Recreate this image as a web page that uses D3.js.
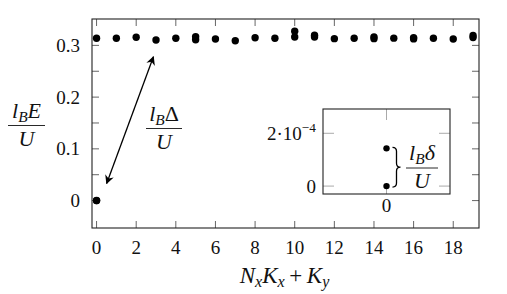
<!DOCTYPE html>
<html>
<head>
<meta charset="utf-8">
<script src="https://cdn.jsdelivr.net/npm/d3@7"></script>
<style>
  body { margin: 0; background: #fff; }
  svg text { font-family: "Liberation Serif", "DejaVu Serif", "Times New Roman", Times, serif; fill: #111; }
</style>
</head>
<body>
<svg id="chart" width="507" height="294"></svg>
<script>
// momentum sectors and lowest excited energies (l_B E / U)
const sectors = [0, 1, 2, 3, 4, 5, 6, 7, 8, 9, 10, 11, 12, 13, 14, 15, 16, 17, 18, 19]
const excitedE = [0.3137, 0.3137, 0.3157, 0.3104, 0.3137, 0.3108, 0.3124, 0.3091, 0.3149, 0.3137,
  0.3162, 0.3162, 0.3130, 0.3137, 0.3130, 0.3140, 0.3125, 0.3137, 0.3124, 0.3150]
// sectors where a second level sits just above the first
const pairSectors = [5, 10, 11, 14, 16, 19]
const pairE = [0.3166, 0.3273, 0.3195, 0.3165, 0.3150, 0.3190]
// quasi-degenerate ground states
const groundSectors = [0, 0]
const groundE = [0, 1.43e-4]

const xTicks = [0, 2, 4, 6, 8, 10, 12, 14, 16, 18]
const yTicks = [0, 0.1, 0.2, 0.3]
const yMinorTicks = [0.05, 0.15, 0.25]
const insetYTicks = [0, 2e-4]

const svg = d3.select('#chart')
const fs = 19
const ms = 22
const serif = "'Liberation Serif', 'DejaVu Serif', 'Times New Roman', serif"

const x = d3.scaleLinear().domain([-0.23, 19.3]).range([92, 479])
const y = d3.scaleLinear().domain([-0.053, 0.351]).range([228, 19])

// frame ticks (inward, on all four sides)
const tickLen = 7
const ticks = svg.append('g').attr('stroke', '#555').attr('stroke-width', 0.9)
xTicks.forEach(t => {
  ticks.append('line').attr('x1', x(t)).attr('x2', x(t)).attr('y1', 228).attr('y2', 228 - tickLen)
  ticks.append('line').attr('x1', x(t)).attr('x2', x(t)).attr('y1', 19).attr('y2', 19 + tickLen)
})
yTicks.concat(yMinorTicks).forEach(t => {
  ticks.append('line').attr('x1', 92).attr('x2', 92 + tickLen).attr('y1', y(t)).attr('y2', y(t))
  ticks.append('line').attr('x1', 479).attr('x2', 479 - tickLen).attr('y1', y(t)).attr('y2', y(t))
})

svg.append('rect')
  .attr('x', 92).attr('y', 19).attr('width', 479 - 92).attr('height', 228 - 19)
  .attr('fill', 'none').attr('stroke', '#222').attr('stroke-width', 1.1)

// tick labels
svg.append('g').selectAll('text').data(xTicks).join('text')
  .attr('x', d => x(d)).attr('y', 254)
  .attr('text-anchor', 'middle').attr('font-size', fs).attr('font-family', serif)
  .text(d => d)

svg.append('g').selectAll('text').data(yTicks).join('text')
  .attr('x', 80).attr('y', d => y(d) + 6.5)
  .attr('text-anchor', 'end').attr('font-size', fs).attr('font-family', serif)
  .text(d => d === 0 ? '0' : d.toFixed(1))

// data points
const pts = svg.append('g').attr('fill', '#000')
pts.selectAll('.ex').data(sectors).join('circle')
  .attr('class', 'ex')
  .attr('cx', (d) => x(d)).attr('cy', (d, i) => y(excitedE[i])).attr('r', 3.7)
pts.selectAll('.pair').data(pairSectors).join('circle')
  .attr('class', 'pair')
  .attr('cx', d => x(d)).attr('cy', (d, i) => y(pairE[i])).attr('r', 3.7)
pts.selectAll('.gs').data(groundSectors).join('circle')
  .attr('class', 'gs')
  .attr('cx', d => x(d)).attr('cy', (d, i) => y(groundE[i])).attr('r', 3.7)

// math-ish text helper: parts = [[text, italic, sub]]
function mathText(g, cx, by, parts, size) {
  const t = g.append('text').attr('x', cx).attr('y', by)
    .attr('text-anchor', 'middle').attr('font-size', size).attr('font-family', serif)
  let down = false
  parts.forEach(p => {
    const s = t.append('tspan').text(p[0])
    if (p[1]) s.attr('font-style', 'italic')
    if (p[2] && !down) { s.attr('dy', 4).attr('font-size', size * 0.7); down = true }
    else if (p[2]) { s.attr('font-size', size * 0.7) }
    else if (down) { s.attr('dy', -4); down = false }
  })
  return t
}

function fraction(g, cx, lineY, x0, x1, num, den, size) {
  mathText(g, cx, lineY - 8, num, size)
  g.append('line').attr('x1', x0).attr('x2', x1).attr('y1', lineY).attr('y2', lineY)
    .attr('stroke', '#111').attr('stroke-width', 0.9)
  mathText(g, cx, lineY + 20, den, size)
}

const labels = svg.append('g')
// y label
fraction(labels, 26.5, 125.5, 8, 45,
  [['l', true], ['B', true, true], ['E', true]], [['U', true]], ms)
// x label
mathText(labels, 284.5, 283,
  [['N', true], ['x', true, true], ['K', true], ['x', true, true], ['\u2009+\u2009', false], ['K', true], ['y', true, true]], ms + 1)

// gap arrow
const defs = svg.append('defs')
defs.append('marker').attr('id', 'ah').attr('viewBox', '0 0 10 10')
  .attr('refX', 9).attr('refY', 5).attr('markerWidth', 9).attr('markerHeight', 9)
  .attr('markerUnits', 'userSpaceOnUse').attr('orient', 'auto-start-reverse')
  .append('path').attr('d', 'M0,0 L10,5 L0,10 L3,5 Z').attr('fill', '#000')
svg.append('line')
  .attr('x1', x(0.51)).attr('y1', y(0.033)).attr('x2', x(2.87)).attr('y2', y(0.278))
  .attr('stroke', '#000').attr('stroke-width', 1.3)
  .attr('marker-start', 'url(#ah)').attr('marker-end', 'url(#ah)')
fraction(labels, 164, 128.5, 146, 182,
  [['l', true], ['B', true, true], ['\u0394', false]], [['U', true]], ms)

// inset
const ix = d3.scaleLinear().domain([-1, 1]).range([323, 450])
const iy = d3.scaleLinear().domain([-0.3e-4, 2.92e-4]).range([194, 109])
const inset = svg.append('g')
inset.append('rect').attr('x', 323).attr('y', 109).attr('width', 450 - 323).attr('height', 194 - 109)
  .attr('fill', '#fff')
const iticks = inset.append('g').attr('stroke', '#aaa').attr('stroke-width', 1)
const iLen = 11
iticks.append('line').attr('x1', ix(0)).attr('x2', ix(0)).attr('y1', 109).attr('y2', 109 + iLen)
iticks.append('line').attr('x1', ix(0)).attr('x2', ix(0)).attr('y1', 194).attr('y2', 194 - iLen)
insetYTicks.forEach(t => {
  iticks.append('line').attr('x1', 323).attr('x2', 323 + iLen).attr('y1', iy(t)).attr('y2', iy(t))
  iticks.append('line').attr('x1', 450).attr('x2', 450 - iLen).attr('y1', iy(t)).attr('y2', iy(t))
})
inset.append('rect').attr('x', 323).attr('y', 109).attr('width', 450 - 323).attr('height', 194 - 109)
  .attr('fill', 'none').attr('stroke', '#222').attr('stroke-width', 1.1)

inset.selectAll('circle').data(groundSectors).join('circle')
  .attr('cx', d => ix(d)).attr('cy', (d, i) => iy(groundE[i])).attr('r', 3.2).attr('fill', '#000')

inset.append('text').attr('x', ix(0)).attr('y', 212).attr('text-anchor', 'middle')
  .attr('font-size', fs).attr('font-family', serif).text('0')
inset.append('text').attr('x', 316).attr('y', iy(0) + 6.5).attr('text-anchor', 'end')
  .attr('font-size', fs).attr('font-family', serif).text('0')
const lab = inset.append('text').attr('x', 316).attr('y', iy(2e-4) + 6.5).attr('text-anchor', 'end')
  .attr('font-size', fs).attr('font-family', serif)
lab.append('tspan').text('2\u00b710')
lab.append('tspan').attr('dy', -8).attr('font-size', fs * 0.7).text('\u22124')

// curly brace between the two ground states
const by1 = iy(groundE[1]) - 1, by2 = iy(groundE[0]) + 1
const bx = ix(0) + 6, bw = 8, bm = (by1 + by2) / 2, bxm = bx + bw / 2, q = 4
inset.append('path')
  .attr('d', `M${bx},${by1} Q${bxm},${by1} ${bxm},${by1 + q} L${bxm},${bm - q} Q${bxm},${bm} ${bx + bw},${bm}` +
    ` Q${bxm},${bm} ${bxm},${bm + q} L${bxm},${by2 - q} Q${bxm},${by2} ${bx},${by2}`)
  .attr('fill', 'none').attr('stroke', '#000').attr('stroke-width', 1.3)
fraction(inset, 422, 168, 406, 438,
  [['l', true], ['B', true, true], ['\u03b4', true]], [['U', true]], ms)
</script>
</body>
</html>
